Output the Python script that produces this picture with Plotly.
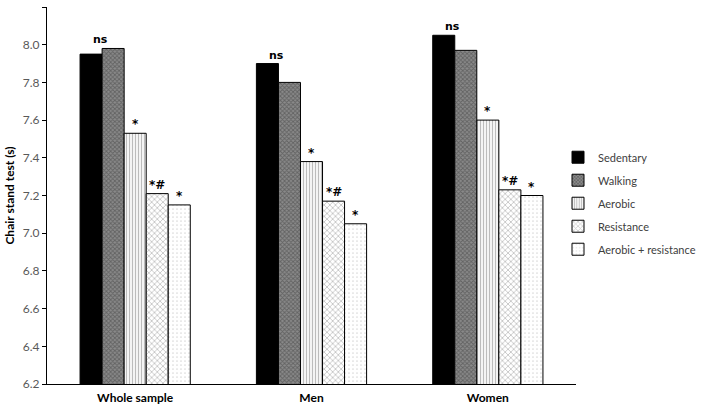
import plotly.graph_objects as go

categories = ["Whole sample", "Men", "Women"]
series_names = ["Sedentary", "Walking", "Aerobic", "Resistance", "Aerobic + resistance"]
sedentary = [7.95, 7.90, 8.05]
walking = [7.98, 7.80, 7.97]
aerobic = [7.53, 7.38, 7.60]
resistance = [7.21, 7.17, 7.23]
aerobic_resistance = [7.15, 7.05, 7.20]
values = [sedentary, walking, aerobic, resistance, aerobic_resistance]
labels = ["ns", "", "*", "*#", "*"]
tick_vals = [6.2, 6.4, 6.6, 6.8, 7.0, 7.2, 7.4, 7.6, 7.8, 8.0, 8.2]

patterns = [
    dict(shape="", bgcolor="black", fgcolor="black"),
    dict(shape="x", bgcolor="#8a8a8a", fgcolor="#3a3a3a", size=3, solidity=0.5),
    dict(shape="|", bgcolor="white", fgcolor="#7a7a7a", size=3, solidity=0.45),
    dict(shape="x", bgcolor="white", fgcolor="#8c8c8c", size=4, solidity=0.4),
    dict(shape=".", bgcolor="white", fgcolor="#b5b5b5", size=4, solidity=0.15),
]
colors = ["black", "#8a8a8a", "white", "white", "white"]

fig = go.Figure()
for i, (name, vals) in enumerate(zip(series_names, values)):
    fig.add_trace(go.Bar(
        x=categories, y=vals, name=name, legendgroup=name,
        marker=dict(color=colors[i], pattern=patterns[i],
                    line=dict(color="black", width=1)),
    ))

bar_px = 22
for i, vals in enumerate(values):
    if not labels[i]:
        continue
    for c, v in zip(categories, vals):
        base_shift = (i - 2) * bar_px
        if i == 0:
            xs = base_shift + 9
            yv = max(v, walking[categories.index(c)]) if c == "Whole sample" else v
            fs = 11
        else:
            xs = base_shift
            yv = v
            fs = 12
        fig.add_annotation(x=c, y=yv, text="<b>" + labels[i] + "</b>", showarrow=False,
                           xshift=xs, yanchor="bottom", yshift=0,
                           font=dict(size=fs, color="black", family="DejaVu Sans"))

fig.update_layout(
    width=702, height=410,
    margin=dict(l=47, r=126, t=7, b=26, autoexpand=False),
    paper_bgcolor="white", plot_bgcolor="white",
    barmode="group", bargap=0.375, bargroupgap=0,
    font=dict(family="Lato", size=12, color="#404040"),
    legend=dict(x=0.966, y=0.64, xanchor="left", yanchor="top",
                font=dict(size=11, color="#404040"), tracegroupgap=4,
                itemwidth=30, bgcolor="rgba(0,0,0,0)"),
    showlegend=True,
)
fig.update_yaxes(range=[6.2, 8.2], tickvals=tick_vals, tickformat=".1f",
                 showgrid=False, zeroline=False, showline=True, linecolor="black",
                 linewidth=1, ticks="outside", ticklen=4, tickcolor="black",
                 automargin=False,
                 tickfont=dict(size=12, color="#595959"),
                 title=dict(text="<b>Chair stand test (s)</b>", standoff=5,
                            font=dict(size=12, color="black")))
fig.update_xaxes(showgrid=False, showline=True, linecolor="black", linewidth=1,
                 ticks="outside", ticklen=3, tickcolor="rgba(0,0,0,0)",
                 tickfont=dict(size=12, color="black"), automargin=False,
                 ticktext=["<b>" + c + "</b>" for c in categories], tickvals=categories)

fig.write_html("out.html", config={"displayModeBar": False},
               post_script="document.body.style.margin='0';")
